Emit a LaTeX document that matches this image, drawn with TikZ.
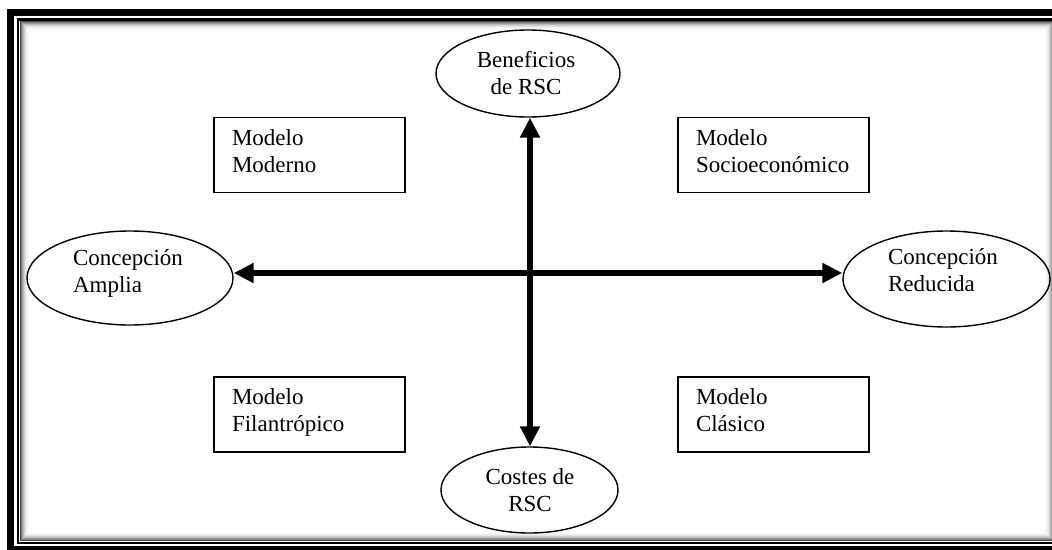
\documentclass[tikz,border=0pt]{standalone}
\usepackage{fontspec}
\setmainfont{Liberation Serif}
\usetikzlibrary{arrows.meta,shapes.geometric}
\begin{document}
\begin{tikzpicture}[x=1pt,y=-1pt,
  ell/.style={draw, ellipse, line width=1.4pt, inner sep=0pt},
  mbox/.style={draw, line width=1.8pt, rectangle, minimum height=75pt,
    text width=155pt, inner xsep=18pt, align=left,
    font=\fontsize{23}{27}\selectfont, execute at end node=\strut},
  txt/.style={font=\fontsize{23}{27}\selectfont, inner sep=0pt},
  dbl/.style={line width=6pt,
    {Triangle[length=20pt,width=19pt]}-{Triangle[length=20pt,width=19pt]}}
]
\useasboundingbox (0,0) rectangle (1052,549);
\clip (0,0) rectangle (1052,549);
\fill[white] (0,0) rectangle (1052,549);
% frame
\draw[line width=7pt] (10.5,12.5) rectangle (1062,549.5);
\draw[line width=2.5pt] (18.2,19.7) rectangle (1056,543);
\foreach \k/\c in {1/70,2/52,3/38,4/27,5/18,6/11,7/6,8/3}{
  \draw[black!\c, line width=1.1pt] (19.45+\k,20.95+\k) rectangle (1054.75-\k,541.75-\k);
}
% ellipses
\node[ell, minimum width=184pt, minimum height=87pt] (ben) at (528,73.5) {};
\node[ell, minimum width=177pt, minimum height=86pt] (cos) at (529.5,490) {};
\node[ell, minimum width=206pt, minimum height=94pt] (ca) at (130,278) {};
\node[ell, minimum width=207pt, minimum height=96pt] (cr) at (946.5,279) {};
\node[txt, align=center] (ben-t) at (526,73.5) {Beneficios\\de RSC};
\node[txt, align=center] (cos-t) at (530,490.5) {Costes de\\RSC};
\node[txt, align=left] (ca-t) at (128,273) {Concepción\\Amplia};
\node[txt, align=left] (cr-t) at (943,270) {Concepción\\Reducida};
% boxes
\node[mbox] (mm) at (309.5,155) {Modelo\\Moderno};
\node[mbox] (ms) at (773.5,155) {Modelo\\Socioeconómico};
\node[mbox] (mf) at (309.5,414.5) {Modelo\\Filantrópico};
\node[mbox] (mc) at (773.5,414.5) {Modelo\\Clásico};
% arrows
\coordinate (o) at (530,273);
\draw[dbl] (ca.east |- o) -- (cr.west |- o);
\draw[dbl] (ben.south -| o) -- (cos.north -| o);
\end{tikzpicture}
\end{document}
